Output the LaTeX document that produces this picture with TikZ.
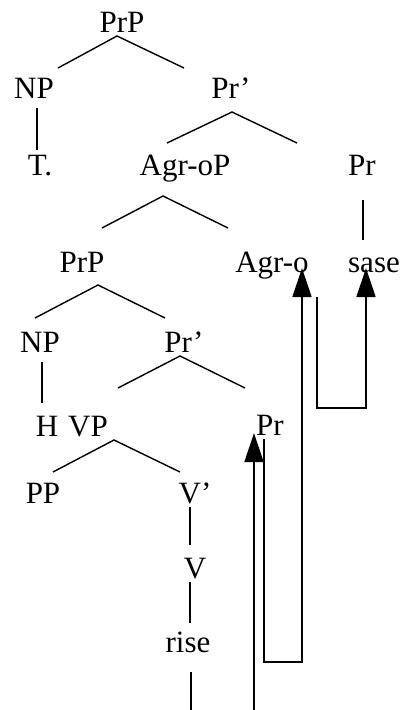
\documentclass[tikz,border=0pt]{standalone}
\usepackage{fontspec}
\setmainfont{Liberation Serif}
\usetikzlibrary{arrows.meta}

\begin{document}
\begin{tikzpicture}[x=1pt,y=-1pt,
  tag/.style={anchor=base,inner sep=0pt,font=\fontsize{31}{36}\selectfont},
  branch/.style={line width=1.4pt},
  move/.style={-{Triangle[length=29pt,width=19pt]},line width=1.4pt}
]
\useasboundingbox (0,0) rectangle (403,710);
% labels, row by row
\node[tag] (root) at (122,32) {PrP};
\node[tag] (npA) at (34,98) {NP};
\node[tag] (prbarA) at (231,98) {Pr’};
\node[tag] (tA) at (40,175) {T.};
\node[tag] (agroP) at (185,175) {Agr-oP};
\node[tag] (prA) at (362,175) {Pr};
\node[tag] (prpB) at (82,272) {PrP};
\node[tag] (agro) at (272,272) {Agr-o};
\node[tag] (sase) at (374,272) {sase};
\node[tag] (npB) at (40,352) {NP};
\node[tag] (prbarB) at (184,352) {Pr’};
\node[tag] (hB) at (47,436) {H};
\node[tag] (vp) at (88,436) {VP};
\node[tag] (prB) at (270,435) {Pr};
\node[tag] (pp) at (43,503) {PP};
\node[tag] (vbar) at (195,503) {V’};
\node[tag] (v) at (195,578) {V};
\node[tag] (rise) at (188,652) {rise};
\coordinate (trace) at (254,712);
% branches
\draw[branch] ([xshift=-5pt,yshift=-4pt]root.base) +(-59,32) -- +(0,0) -- +(67,32);
\draw[branch] ([xshift=1pt,yshift=-14pt]prbarA.base) +(-65,31) -- +(0,0) -- +(65,31);
\draw[branch] ([xshift=-22pt,yshift=-21pt]agroP.base) +(-61,32) -- +(0,0) -- +(65,32);
\draw[branch] ([xshift=16pt,yshift=-13pt]prpB.base) +(-63,33) -- +(0,0) -- +(67,33);
\draw[branch] ([xshift=-4pt,yshift=-4pt]prbarB.base) +(-62,32) -- +(0,0) -- +(65,32);
\draw[branch] ([xshift=26pt,yshift=-4pt]vp.base) +(-61,32) -- +(0,0) -- +(66,32);
\draw[branch] ([xshift=3pt,yshift=-10pt]npA.base) -- ++(0,42);
\draw[branch] ([xshift=1pt,yshift=-25pt]prA.base) -- ++(0,40);
\draw[branch] ([xshift=2pt,yshift=-10pt]npB.base) -- ++(0,41);
\draw[branch] ([xshift=-5pt,yshift=-4pt]vbar.base) -- ++(0,38);
\draw[branch] ([xshift=-5pt,yshift=-4pt]v.base) -- ++(0,41);
\draw[branch] ([xshift=3pt,yshift=-20pt]rise.base) -- ++(0,38);
% movement
\draw[move] (trace) -- ([xshift=-16pt,yshift=2pt]prB.base);
\draw[move] ([xshift=-6pt,yshift=-4pt]prB.base) -- ++(0,223) -| ([xshift=30pt,yshift=4pt]agro.base);
\draw[move] ([xshift=45pt,yshift=-25pt]agro.base) -- ++(0,111) -| ([xshift=-8pt,yshift=4pt]sase.base);
\end{tikzpicture}
\end{document}
